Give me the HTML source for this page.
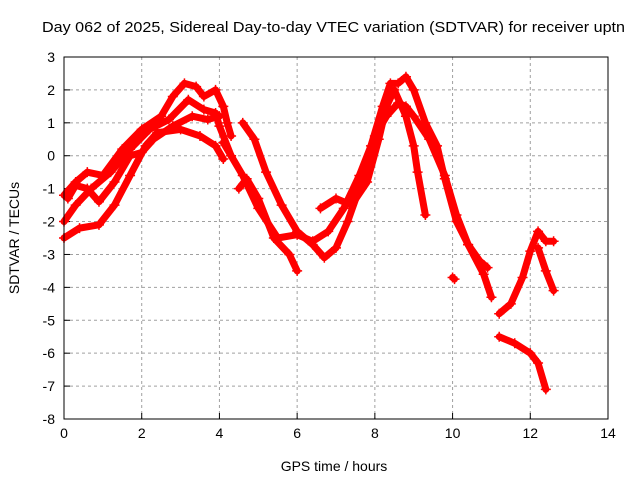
<!DOCTYPE html>
<html><head><meta charset="utf-8"><style>
body{margin:0;background:#fff;}
svg{display:block;font-family:"Liberation Sans",sans-serif;}
</style></head><body>
<svg id="chart" width="640" height="480">
<text x="42" y="32" font-size="15" textLength="583" lengthAdjust="spacingAndGlyphs">Day 062 of 2025, Sidereal Day-to-day VTEC variation (SDTVAR) for receiver uptn</text>
<text x="334" y="471" text-anchor="middle" font-size="14">GPS time / hours</text>
<text transform="translate(19,238) rotate(-90)" text-anchor="middle" font-size="14">SDTVAR / TECUs</text>
<g id="grid"></g><g id="ticks"></g><g id="marks"></g>
<rect x="64" y="57" width="544" height="362" fill="none" stroke="#000" stroke-width="1"/>
</svg>
<script>
const xTicks=[0,2,4,6,8,10,12,14];
const yTicks=[3,2,1,0,-1,-2,-3,-4,-5,-6,-7,-8];
const trackA=[[0,-1.2],[0.3,-0.8],[0.6,-0.5],[1.0,-0.6],[1.5,0.2],[2.0,0.8],[2.5,1.2],[2.8,1.8],[3.1,2.2],[3.4,2.1],[3.6,1.8],[3.9,2.0],[4.1,1.5],[4.2,1.0],[4.3,0.6]];
const trackB=[[0,-2.0],[0.3,-1.5],[0.7,-1.0],[1.2,-0.5],[1.7,0.2],[2.2,0.8],[2.7,1.1],[3.2,1.7],[3.6,1.4],[3.9,1.3],[4.0,0.9],[4.3,0.0]];
const trackC=[[0,-2.5],[0.4,-2.2],[0.9,-2.1],[1.3,-1.5],[1.7,-0.6],[2.1,0.3],[2.4,0.7],[3.0,0.8],[3.5,0.6],[3.9,0.3],[4.1,-0.1]];
const trackD=[[0.1,-1.3],[0.3,-0.9],[0.6,-1.0],[0.9,-1.4],[1.3,-0.8],[1.7,0.0],[2.0,0.1],[2.3,0.5],[2.8,0.9],[3.3,1.2],[3.7,1.1],[4.0,1.2]];
const trackE=[[4.6,1.0],[4.9,0.5],[5.2,-0.5],[5.6,-1.5],[6.0,-2.3],[6.4,-2.7],[6.7,-3.1],[7.0,-2.8],[7.3,-2.0],[7.6,-1.0],[7.9,0.3],[8.2,1.5],[8.4,2.2],[8.6,2.2],[8.8,2.4],[9.0,2.0],[9.3,1.0],[9.6,0.3],[9.8,-0.7],[10.1,-2.0],[10.4,-2.7],[10.7,-3.2],[10.9,-3.4]];
const trackF=[[4.5,-1.0],[4.7,-0.7],[5.0,-1.3],[5.4,-2.5],[5.8,-3.0],[6.0,-3.5]];
const trackG=[[4.1,0.4],[4.6,-0.6],[5.0,-1.6],[5.5,-2.5],[6.0,-2.4],[6.4,-2.6],[6.8,-2.3],[7.2,-1.6],[7.6,-0.6],[8.0,0.6],[8.3,1.2],[8.6,1.6],[8.8,1.5],[9.0,1.2],[9.4,0.5],[9.8,-0.6],[10.1,-1.8],[10.4,-2.7],[10.8,-3.6],[11.0,-4.3]];
const trackH=[[6.6,-1.6],[7.0,-1.3],[7.4,-1.5],[7.8,-0.8],[8.1,0.5],[8.3,1.5],[8.5,2.0],[8.8,1.2],[9.0,0.3],[9.1,-0.5],[9.3,-1.8]];
const trackI=[[11.2,-4.8],[11.5,-4.5],[11.8,-3.7],[12.0,-2.9],[12.2,-2.3],[12.4,-2.6],[12.6,-2.6]];
const trackJ=[[12.2,-2.8],[12.4,-3.5],[12.6,-4.1]];
const trackK=[[11.2,-5.5],[11.6,-5.7],[12.0,-6.0],[12.2,-6.3],[12.4,-7.1]];
const trackL=[[10.0,-3.7],[10.05,-3.75]];
const tracks=[trackA,trackB,trackC,trackD,trackE,trackF,trackG,trackH,trackI,trackJ,trackK,trackL];
const NS="http://www.w3.org/2000/svg";
const X0=64,X1=608,Y0=57,Y1=419;
function sx(t){return X0+(t-0)/(14-0)*(X1-X0);}
function sy(v){return Y0+(3-v)/(3-(-8))*(Y1-Y0);}
const grid=document.getElementById('grid'),ticks=document.getElementById('ticks'),marks=document.getElementById('marks');
function mk(tag,attrs,parent){const e=document.createElementNS(NS,tag);for(const k in attrs)e.setAttribute(k,attrs[k]);parent.appendChild(e);return e;}
xTicks.forEach(t=>{const x=sx(t);
 if(t>0&&t<14){const g=mk('line',{x1:x,x2:x,y1:Y0,y2:Y1,stroke:'#a0a0a0','stroke-dasharray':'3,3'},grid);
 
 }
 const tl=mk('line',{x1:x,x2:x,y1:Y1,y2:Y1-6,stroke:'#000'},ticks);
 
 
 const tx=mk('text',{x:x,y:Y1+19,'text-anchor':'middle','font-size':'14'},ticks);tx.textContent=t;
 
 });
yTicks.forEach(v=>{const y=sy(v);
 if(v<3&&v>-8){const g=mk('line',{x1:X0,x2:X1,y1:y,y2:y,stroke:'#a0a0a0','stroke-dasharray':'3,3'},grid);
 
 }
 const tl=mk('line',{x1:X0,x2:X0+6,y1:y,y2:y,stroke:'#000'},ticks);
 
 
 const tx=mk('text',{x:X0-9,y:y+5,'text-anchor':'end','font-size':'14'},ticks);tx.textContent=v;
 
 });
tracks.forEach((tr,i)=>{
 const pl=mk('polyline',{points:tr.map(p=>sx(p[0])+','+sy(p[1])).join(' '),fill:'none',stroke:'#ff0000','stroke-width':'7','stroke-linejoin':'round','stroke-linecap':'round'},marks);
 
 
 tr.forEach(p=>{const x=sx(p[0]),y=sy(p[1]);
  const m=mk('path',{d:`M${x-5},${y}H${x+5}M${x},${y-5}V${y+5}`,stroke:'#ff0000','stroke-width':'1.5'},marks);
  
  });
});
</script>
</body></html>
